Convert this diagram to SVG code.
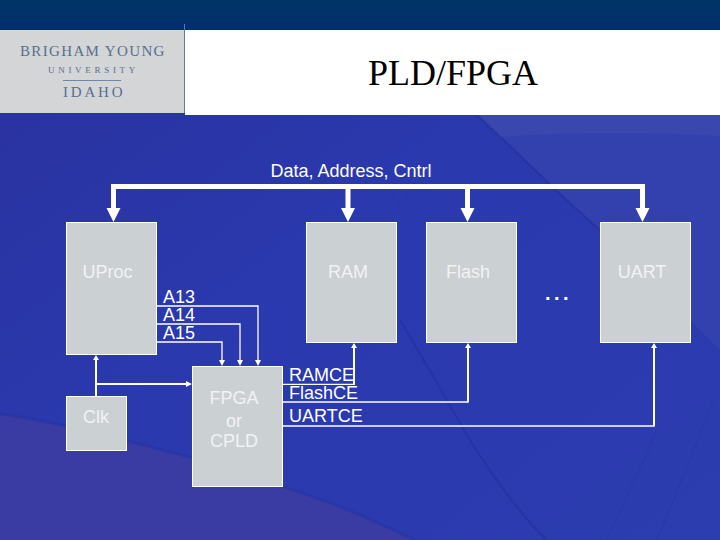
<svg xmlns="http://www.w3.org/2000/svg" width="720" height="540" viewBox="0 0 720 540">
<style>
.box{fill:#cbd0d3;stroke:#fff;stroke-width:1}
.t{font-family:"Liberation Sans",Arial,sans-serif;font-size:18px;fill:#fff}
.n{fill:#f1f3f4}
.m{text-anchor:middle}
.w{fill:none;stroke:#fff;stroke-width:1.300}
.w2{fill:none;stroke:#fff;stroke-width:2}
.bus{fill:none;stroke:#fff;stroke-width:5}
.hd{fill:#fff}
.edge{fill:none;stroke:#202c98;stroke-width:2;opacity:.5}
.faint{fill:none;stroke:#2433a2;stroke-width:1.500;opacity:.35}
</style>
<defs>
<linearGradient id="bg" x1="0" y1="0" x2="1" y2="1"><stop offset="0" stop-color="#2a319c"/><stop offset="0.45" stop-color="#2a39ae"/><stop offset="1" stop-color="#2c3db0"/></linearGradient>
<linearGradient id="top" x1="0" y1="0" x2="0" y2="1"><stop offset="0" stop-color="#003468"/><stop offset="1" stop-color="#022f6b"/></linearGradient>
</defs>
<rect width="720" height="540" fill="url(#bg)"/>
<path d="M0 414C65 423 130 442 193 458C250 476 310 494 360 515C380 524 398 532 415 540H0Z" fill="#3a3ca4"/>
<path d="M0 414C65 423 130 442 193 458C250 476 310 494 360 515C380 524 398 532 415 540" fill="none" stroke="#2230a0" stroke-width="3" opacity=".4"/>
<path d="M477 115C520 155 560 195 600 230L720 350V115Z" fill="#3341ae"/>
<path d="M477 115H720V136C650 132 570 132 500 137Z" fill="#3a47ae"/>
<path class="edge" d="M477 115C520 155 560 195 600 230"/>
<path d="M500 137C450 150 410 175 390 210" fill="none" stroke="#3040b4" stroke-width="1.500" opacity=".5"/>
<path class="edge" d="M400 320C415 345 450 405 470 440C495 480 525 520 547 540"/>
<path class="faint" d="M657 430C640 470 620 510 607 540M713 400C695 450 675 495 657 540"/>
<rect width="720" height="30" fill="url(#top)"/>
<rect x="0" y="30" width="184" height="83" fill="#d4d5d7"/>
<rect x="185" y="30" width="535" height="85" fill="#fff"/>
<path d="M184.500 24V113" stroke="#5d7a9c" stroke-width="1"/>
<g id="logo" fill="#55708f" font-family="'Liberation Serif',serif">
<text x="20" y="56" font-size="15" letter-spacing="1.350">BRIGHAM YOUNG</text>
<text x="48" y="73" font-size="9" letter-spacing="3.700">UNIVERSITY</text>
<rect x="63" y="80" width="58" height="1" fill="#6f88a8"/>
<text x="63" y="97" font-size="15" letter-spacing="2.800">IDAHO</text>
</g>
<text id="title" x="453" y="85" text-anchor="middle" font-family="'Liberation Serif',serif" font-size="36" fill="#000">PLD/FPGA</text>
<g id="connectors">
<path class="bus" d="M113.500 208V186.500H642.500V208M348 186.500V208M467.500 186.500V208"/>
<path class="hd" d="M106.500 208H120.500L113.500 222ZM341 208H355L348 222ZM460.500 208H474.500L467.500 222ZM635.500 208H649.500L642.500 222Z"/>
<path class="w" d="M157 306H258V361M157 324H240V361M157 342H222V361"/>
<path class="hd" d="M255 360H261L258 366ZM237 360H243L240 366ZM219 360H225L222 366Z"/>
<path class="w2" d="M96 396V359M96 384H187"/>
<path class="hd" d="M93 360L96 355L99 360ZM186 381L192 384L186 387Z"/>
<path class="w" d="M283 384.300H354M283 402H468M283 426H654"/>
<path class="w2" d="M354 385V347M468 402.500V347M654 426.500V347"/>
<path class="hd" d="M351 348L354 343L357 348ZM465 348L468 343L471 348ZM651 348L654 343L657 348Z"/>
</g>
<text id="bus-label" class="t m" x="351" y="177">Data, Address, Cntrl</text>
<g id="uproc"><rect class="box" x="66.500" y="222.500" width="90" height="132"/><text class="t m n" x="107.500" y="278">UProc</text></g>
<g id="ram"><rect class="box" x="306.500" y="222.500" width="90" height="120"/><text class="t m n" x="348" y="278">RAM</text></g>
<g id="flash"><rect class="box" x="426.500" y="222.500" width="90" height="120"/><text class="t m n" x="468" y="278">Flash</text></g>
<g id="uart"><rect class="box" x="600.500" y="222.500" width="90" height="120"/><text class="t m n" x="642" y="278">UART</text></g>
<g id="clk"><rect class="box" x="66.500" y="396.500" width="60" height="54"/><text class="t m n" x="96" y="423">Clk</text></g>
<g id="fpga"><rect class="box" x="192.500" y="366.500" width="90" height="120"/><text class="t m n" x="234" y="404">FPGA</text><text class="t m n" x="234" y="427">or</text><text class="t m n" x="234" y="447">CPLD</text></g>
<g id="labels">
<text class="t" x="163" y="303">A13</text><text class="t" x="163" y="321">A14</text><text class="t" x="163" y="339">A15</text>
<text class="t" x="289" y="381">RAMCE</text><text class="t" x="289" y="399">FlashCE</text><text class="t" x="289" y="422">UARTCE</text>
<text x="545" y="300" font-family="'Liberation Sans',sans-serif" font-size="20" font-weight="bold" fill="#fff" letter-spacing="3.500">...</text>
</g>
</svg>
